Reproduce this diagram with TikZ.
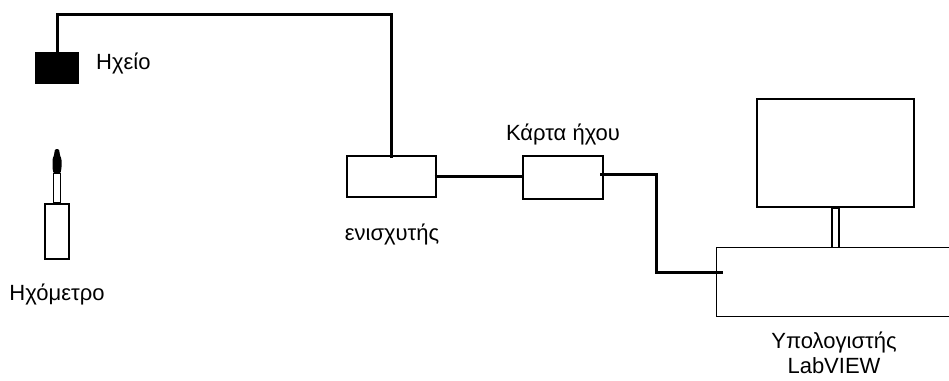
\documentclass[tikz,border=0pt]{standalone}
\usepackage{fontspec}
\setmainfont{Liberation Sans}
\begin{document}
\begin{tikzpicture}[x=1pt,y=-1pt,
  box/.style={draw,line width=1.2pt,inner sep=0pt,fill=white},
  wire/.style={line width=3pt},
  lbl/.style={inner sep=0pt,font=\fontsize{22}{25}\selectfont,align=center}]
\clip (0,0) rectangle (949,380);
\useasboundingbox (0,0) rectangle (949,380);

% speaker
\node[box,fill=black,minimum width=42pt,minimum height=30pt] (spk) at (57,68) {};
\node[lbl,anchor=west] (spklbl) at (96,63) {Ηχείο};

% sound level meter
\node[box,minimum width=24pt,minimum height=55pt] (mic) at (57,231.5) {};
\node[box,minimum width=7pt,minimum height=29pt,anchor=south] (stem) at (mic.north) {};
\fill[rounded corners=1pt] ([xshift=-3.5pt]stem.north) -- ++(-1,-5) -- ++(0,-9) -- ++(1.5,-4)
  -- ++(1,-6) -- ++(4,0) -- ++(1,6) -- ++(1.5,4) -- ++(0,9) -- ++(-1,5) -- cycle;
\node[lbl] (miclbl) at (57,294) {Ηχόμετρο};

% amplifier and sound card
\node[box,minimum width=89pt,minimum height=41pt] (amp) at (391.5,176.5) {};
\node[lbl] (amplbl) at (392,234) {ενισχυτής};
\node[box,minimum width=80pt,minimum height=43pt] (card) at (563,177.5) {};
\node[lbl] (cardlbl) at (563,134) {Κάρτα ήχου};

% computer
\node[box,minimum width=157pt,minimum height=108pt] (mon) at (835.5,153) {};
\node[box,minimum width=7pt,minimum height=40pt,anchor=north] (stand) at (mon.south) {};
\node[box,minimum width=250pt,minimum height=69pt,anchor=north west] (pc) at (716,247) {};
\node[lbl] (pclbl) at (834,353) {Υπολογιστής\\LabVIEW};

% cables
\coordinate (top) at (0,14);
\coordinate (bend) at (656,0);
\coordinate (pcin) at (723,272);
\coordinate (cardout) at (600,174);
\draw[wire] (spk.north) -- (spk.north |- top) -| ([yshift=-3pt]amp.north);
\draw[wire] ([xshift=-2pt]amp.east) -- ([xshift=2pt]amp.east -| card.west);
\draw[wire] (cardout) -| (bend |- pcin) -- (pcin);
\end{tikzpicture}
\end{document}
